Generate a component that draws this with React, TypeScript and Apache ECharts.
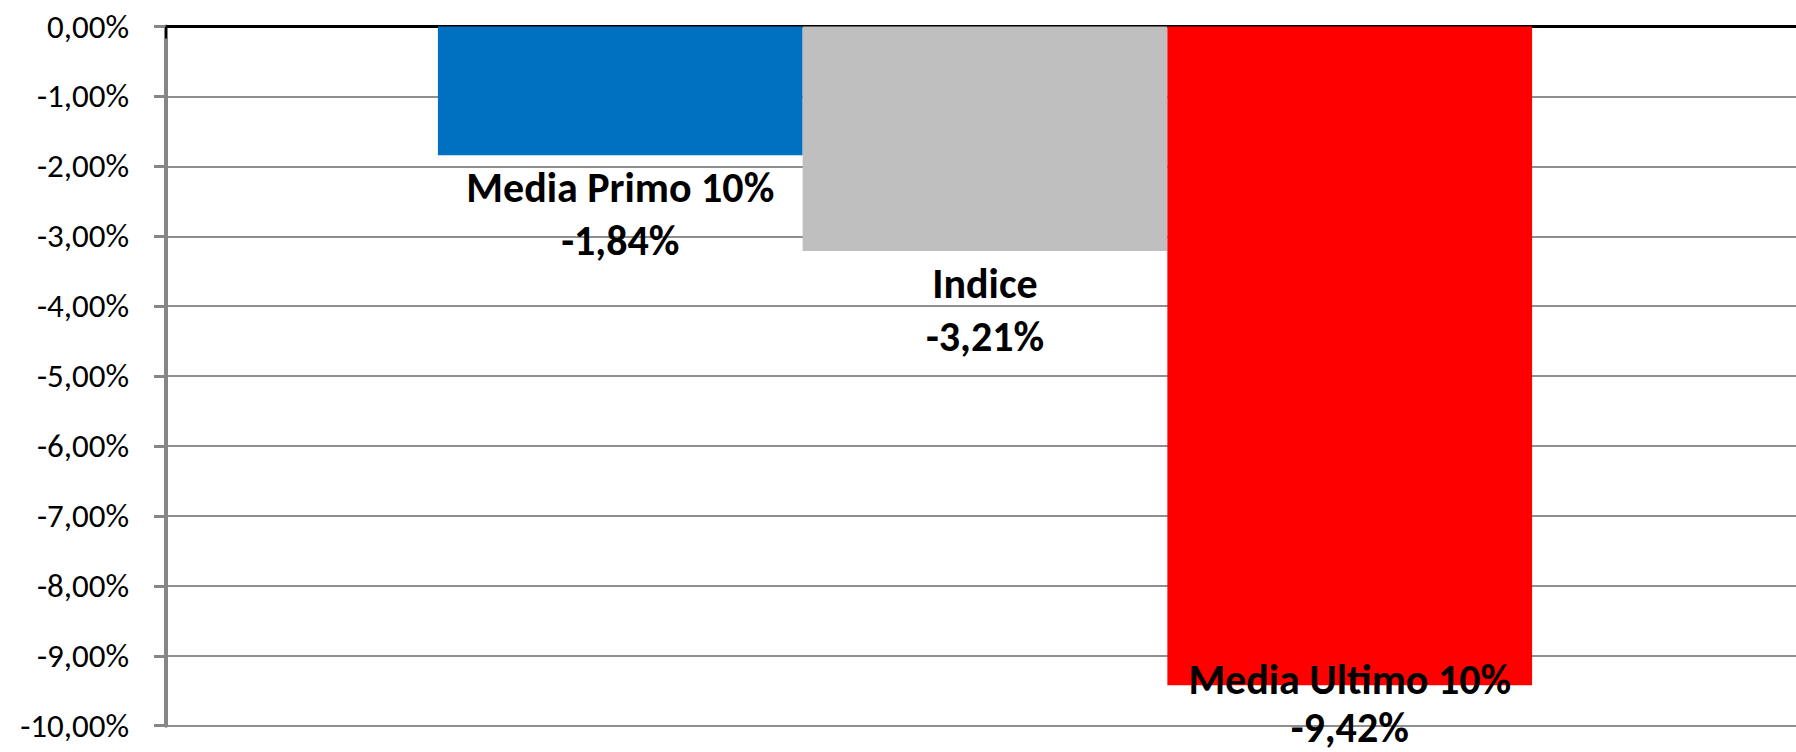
import React, { useEffect, useRef } from "react";
import * as echarts from "echarts";

const categories = [""];
const seriesNames = ["Media Primo 10%", "Indice", "Media Ultimo 10%"];
const seriesValues = [-1.84, -3.21, -9.42];
const seriesColors = ["#0070C0", "#BFBFBF", "#FF0000"];
const yMin = -10;
const yMax = 0;
const yStep = 1;

const fmt = (v: number) => v.toFixed(2).replace(".", ",") + "%";
const FONT = "Carlito, Lato, 'Open Sans', sans-serif";

export default function App() {
  const ref = useRef<HTMLDivElement>(null);
  useEffect(() => {
    if (!ref.current) return;
    const chart = echarts.init(ref.current, null, { renderer: "svg" });
    chart.setOption({
      animation: false,
      backgroundColor: "#ffffff",
      grid: { left: 166, right: 0, top: 26.5, bottom: 26.3, containLabel: false },
      xAxis: {
        type: "category",
        data: categories,
        axisLine: { onZero: true, lineStyle: { color: "#000", width: 3 } },
        axisTick: { show: true, length: 12, lineStyle: { color: "#000", width: 2 } },
        axisLabel: { show: false },
        splitLine: { show: false },
      },
      yAxis: {
        type: "value",
        min: yMin,
        max: yMax,
        interval: yStep,
        axisLine: { show: true, lineStyle: { color: "#868686", width: 4 } },
        axisTick: { show: true, inside: false, length: 12, lineStyle: { color: "#868686", width: 3 } },
        axisLabel: {
          margin: 37,
          color: "#000",
          fontSize: 33,
          fontFamily: FONT,
          formatter: (v: number) => fmt(v),
        },
        splitLine: { show: true, lineStyle: { color: "#8f8f8f", width: 2 } },
      },
      series: seriesNames.map((name, i) => ({
        name,
        type: "bar",
        data: [seriesValues[i]],
        barGap: "0%",
        barCategoryGap: "33.2%",
        itemStyle: { color: seriesColors[i] },
        label: {
          show: true,
          position: "bottom",
          distance: 6,
          offset: i === 2 ? [0, -36] : [0, 0],
          color: "#000",
          fontSize: 42,
          fontWeight: "bold",
          fontFamily: FONT,
          lineHeight: i === 2 ? 48 : 53,
          align: "center",
          formatter: (p: any) => name + "\n" + fmt(p.value),
        },
      })),
    });
    return () => chart.dispose();
  }, []);
  return (
    <div style={{ position: "fixed", left: 0, top: 0, width: 1796, height: 752, overflow: "hidden", background: "#fff" }}>
      <div ref={ref} style={{ width: 1804, height: 752 }} />
    </div>
  );
}
